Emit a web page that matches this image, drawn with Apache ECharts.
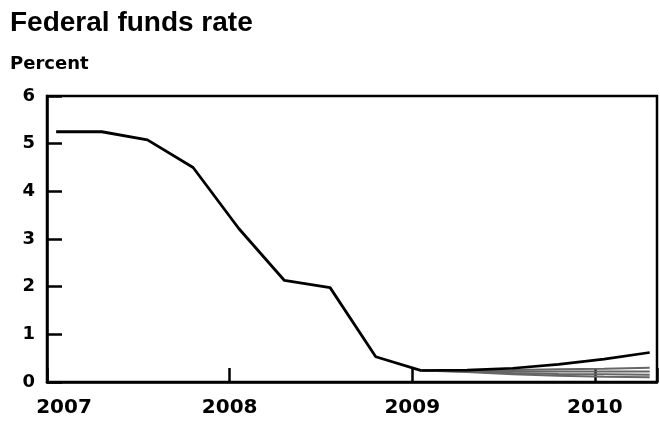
<!DOCTYPE html>
<html><head><meta charset="utf-8">
<script src="https://cdn.jsdelivr.net/npm/echarts@6/dist/echarts.min.js"></script>
<style>html,body{margin:0;padding:0;background:#fff}#c{width:660px;height:423px}</style>
</head><body><div id="c"></div>
<script>
const titleText = 'Federal funds rate';
const unitText = 'Percent';
const histYears = [2007.05, 2007.3, 2007.55, 2007.8, 2008.05, 2008.3, 2008.55, 2008.8, 2009.05];
const histRate = [5.25, 5.25, 5.08, 4.5, 3.22, 2.13, 1.98, 0.53, 0.24];
const projYears = [2009.05, 2009.3, 2009.55, 2009.8, 2010.05, 2010.3];
const projHigh = [0.24, 0.25, 0.29, 0.37, 0.48, 0.62];
const projB = [0.24, 0.24, 0.25, 0.27, 0.28, 0.30];
const projC = [0.24, 0.23, 0.22, 0.22, 0.22, 0.22];
const projD = [0.24, 0.22, 0.19, 0.17, 0.16, 0.15];
const projE = [0.24, 0.21, 0.16, 0.13, 0.11, 0.10];
const yTicks = [0, 1, 2, 3, 4, 5, 6];
const xTicks = [2007, 2008, 2009, 2010];

const pair = (xs, ys) => xs.map((x, i) => [x, ys[i]]);
const grey = (ys) => ({type:'line', data: pair(projYears, ys), symbol:'none', lineStyle:{color:'#666', width:2}, z:2});

const chart = echarts.init(document.getElementById('c'), null, {renderer:'canvas'});
chart.setOption({
  animation: false,
  backgroundColor: '#fff',
  title: [
    {text: titleText, left: 5, top: 4, textStyle:{fontFamily:'Liberation Sans', fontWeight:'bold', fontSize:28, color:'#000'}},
    {text: unitText, left: 5, top: 50, textStyle:{fontFamily:'DejaVu Sans', fontWeight:'bold', fontSize:18, color:'#000'}}
  ],
  grid: {left: 47, right: 3, top: 96, bottom: 41, show: true, borderColor:'#000', borderWidth: 2.5},
  xAxis: {
    type:'value', min: xTicks[0], max: 2010.34, interval: 1,
    splitLine:{show:false},
    axisLine:{show:true, lineStyle:{color:'#000', width:2.5}},
    axisTick:{show:true, inside:true, length:14, lineStyle:{color:'#000', width:2.5}},
    axisLabel:{
      margin: 16,
      formatter: v => xTicks.includes(v) ? (v === xTicks[0] ? '{f|' + v + '}' : '{n|' + v + '}') : '',
      rich: {
        f: {fontFamily:'DejaVu Sans', fontWeight:'bold', fontSize:20, color:'#000', padding:[0,0,0,34]},
        n: {fontFamily:'DejaVu Sans', fontWeight:'bold', fontSize:20, color:'#000'}
      }
    }
  },
  yAxis: {
    type:'value', min: yTicks[0], max: yTicks[yTicks.length-1], interval: 1,
    splitLine:{show:false},
    axisLine:{show:true, lineStyle:{color:'#000', width:2.5}},
    axisTick:{show:true, inside:true, length:15, lineStyle:{color:'#000', width:2.5}},
    axisLabel:{margin: 12, fontFamily:'DejaVu Sans', fontWeight:'bold', fontSize:18, color:'#000'}
  },
  series: [
    grey(projE), grey(projD), grey(projC), grey(projB),
    {type:'line', data: pair(projYears, projHigh), symbol:'none', lineStyle:{color:'#000', width:2.6}, z:3},
    {type:'line', data: pair(histYears, histRate), symbol:'none', lineStyle:{color:'#000', width:2.8}, z:4}
  ]
});
</script></body></html>
